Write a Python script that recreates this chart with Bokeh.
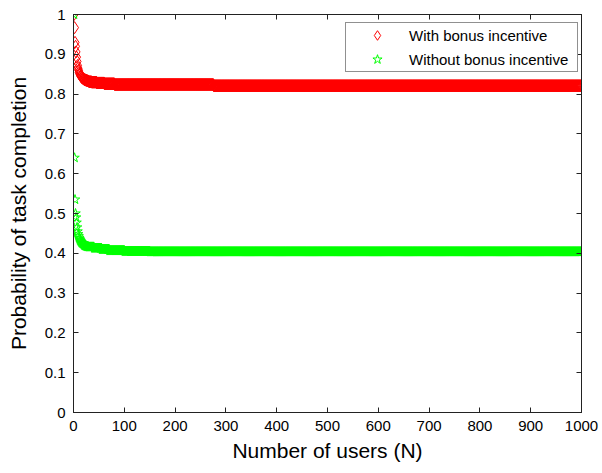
from bokeh.plotting import figure
from bokeh.models import Range1d, LinearAxis, FixedTicker, CustomJSTickFormatter, Legend, LegendItem
from bokeh.embed import file_html
from bokeh.resources import INLINE

# ---- data ----
users = list(range(1, 1001))

with_bonus_head = [1.0, 0.967, 0.93, 0.92, 0.906, 0.893, 0.882, 0.872, 0.865, 0.86,
                   0.855, 0.852, 0.849, 0.846, 0.844, 0.842, 0.841, 0.84, 0.839, 0.838,
                   0.837, 0.836, 0.836, 0.835, 0.835, 0.834, 0.834, 0.833, 0.833, 0.832]
with_bonus_tail = ([0.831] * 5 + [0.830] * 10 + [0.828] * 15 + [0.826] * 20
                   + [0.824] * 195 + [0.821] * 725)
with_bonus = with_bonus_head + with_bonus_tail

without_bonus_head = [1.0, 0.64, 0.535, 0.50, 0.49, 0.477, 0.465, 0.455, 0.448, 0.443,
                      0.439, 0.436, 0.433, 0.431, 0.429, 0.427, 0.426, 0.425, 0.424, 0.423,
                      0.421, 0.420, 0.419, 0.419, 0.418, 0.418, 0.417, 0.417, 0.417, 0.416]
without_bonus_tail = ([0.416] * 10 + [0.413] * 15 + [0.410] * 15 + [0.407] * 30
                      + [0.405] * 50 + [0.404] * 850)
without_bonus = without_bonus_head + without_bonus_tail

x_ticks = [0, 100, 200, 300, 400, 500, 600, 700, 800, 900, 1000]
y_ticks = [0, 0.1, 0.2, 0.3, 0.4, 0.5, 0.6, 0.7, 0.8, 0.9, 1.0]

FONT = "Liberation Sans"
AX = "#222222"

p = figure(width=602, height=473, output_backend="svg", toolbar_location=None,
           x_range=Range1d(0, 1000), y_range=Range1d(0, 1),
           min_border_left=73, min_border_right=21, min_border_top=14, min_border_bottom=61,
           background_fill_color="white", border_fill_color="white")
p.grid.visible = False
p.outline_line_color = AX

r1 = p.scatter(users, with_bonus, marker="diamond", size=12, fill_alpha=0,
               line_color="#ff0000", line_width=1)
r2 = p.scatter(users, without_bonus, marker="star", size=10, fill_alpha=0,
               line_color="#00ff00", line_width=1)

for ax in (p.xaxis[0], p.yaxis[0]):
    ax.axis_line_color = AX
    ax.major_tick_line_color = AX
    ax.major_tick_in = 5
    ax.major_tick_out = 0
    ax.minor_tick_line_color = None
    ax.major_label_text_font = FONT
    ax.major_label_text_font_size = "15px"
    ax.major_label_text_color = "black"
    ax.major_label_standoff = 8
    ax.axis_label_text_font = FONT
    ax.axis_label_text_font_size = "21px"
    ax.axis_label_text_font_style = "normal"
    ax.axis_label_text_color = "black"

p.xaxis[0].ticker = FixedTicker(ticks=x_ticks)
p.yaxis[0].ticker = FixedTicker(ticks=y_ticks)
p.yaxis[0].formatter = CustomJSTickFormatter(code="return String(Math.round(tick*10)/10);")
p.xaxis[0].axis_label = "Number of users (N)"
p.yaxis[0].axis_label = "Probability of task completion"
p.xaxis[0].axis_label_standoff = 5
p.yaxis[0].axis_label_standoff = 12

top = LinearAxis(ticker=FixedTicker(ticks=x_ticks),
                 formatter=CustomJSTickFormatter(code="return '';"))
right = LinearAxis(ticker=FixedTicker(ticks=y_ticks),
                   formatter=CustomJSTickFormatter(code="return '';"))
for ax in (top, right):
    ax.axis_line_color = AX
    ax.major_tick_line_color = AX
    ax.major_tick_in = 5
    ax.major_tick_out = 0
    ax.minor_tick_line_color = None
    ax.major_label_standoff = 0
    ax.major_label_text_font_size = "1px"
p.add_layout(top, "above")
p.add_layout(right, "right")

legend = Legend(items=[LegendItem(label="With bonus incentive", renderers=[r1]),
                       LegendItem(label="Without bonus incentive", renderers=[r2])],
                location=(272, 340))
legend.label_text_font = FONT
legend.label_text_font_size = "15px"
legend.label_text_color = "black"
legend.padding = 0
legend.spacing = 0
legend.glyph_height = 24
legend.label_height = 24
legend.glyph_width = 62
legend.label_standoff = 1
legend.label_width = 168
legend.border_line_color = AX
legend.border_line_width = 1
legend.background_fill_color = "white"
legend.background_fill_alpha = 1
legend.margin = 0
p.add_layout(legend, "center")

open("out.html", "w").write(file_html(p, INLINE))
